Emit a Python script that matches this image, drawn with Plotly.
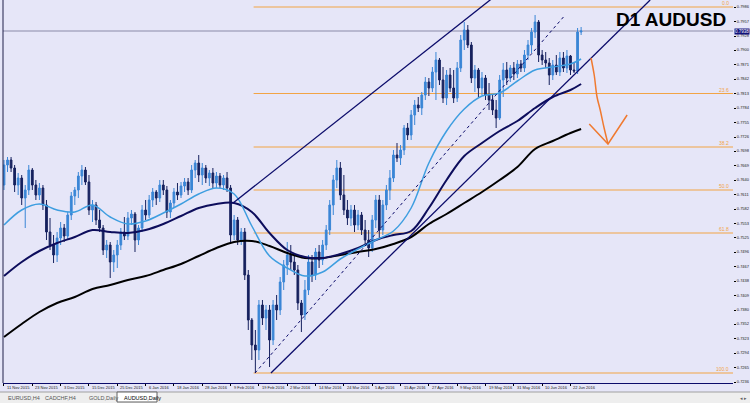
import plotly.graph_objects as go

# ---------------- data ----------------
bar_index = list(range(164))
opens = [0.7630,0.7670,0.7680,0.7664,0.7630,0.7644,0.7604,0.7620,0.7660,0.7630,0.7610,0.7624,0.7590,0.7536,0.7510,0.7490,0.7524,0.7544,0.7528,0.7570,
0.7608,0.7620,0.7648,0.7660,0.7636,0.7580,0.7590,0.7560,0.7544,0.7500,0.7510,0.7476,0.7490,0.7510,0.7536,0.7528,0.7564,0.7572,0.7520,0.7544,
0.7580,0.7570,0.7600,0.7616,0.7604,0.7630,0.7620,0.7576,0.7594,0.7616,0.7610,0.7628,0.7636,0.7620,0.7660,0.7674,0.7650,0.7664,0.7644,0.7654,
0.7634,0.7648,0.7630,0.7644,0.7624,0.7530,0.7560,0.7520,0.7536,0.7450,0.7360,0.7310,0.7300,0.7390,0.7364,0.7380,0.7320,0.7390,0.7380,0.7436,
0.7470,0.7490,0.7476,0.7460,0.7394,0.7370,0.7420,0.7476,0.7450,0.7496,0.7480,0.7510,0.7540,0.7590,0.7640,0.7664,0.7610,0.7580,0.7564,0.7580,
0.7550,0.7570,0.7540,0.7520,0.7504,0.7560,0.7600,0.7540,0.7590,0.7620,0.7644,0.7690,0.7684,0.7700,0.7744,0.7730,0.7770,0.7790,0.7784,0.7810,
0.7836,0.7824,0.7856,0.7880,0.7840,0.7804,0.7850,0.7824,0.7804,0.7864,0.7920,0.7940,0.7910,0.7844,0.7860,0.7824,0.7844,0.7810,0.7800,0.7780,
0.7764,0.7840,0.7860,0.7844,0.7864,0.7852,0.7872,0.7864,0.7890,0.7910,0.7936,0.7956,0.7890,0.7880,0.7874,0.7850,0.7870,0.7856,0.7884,0.7864,
0.7888,0.7860,0.7858,0.7936]
highs = [0.7680,0.7686,0.7686,0.7670,0.7654,0.7650,0.7630,0.7670,0.7664,0.7640,0.7634,0.7630,0.7600,0.7564,0.7530,0.7536,0.7556,0.7552,0.7576,0.7616,
0.7626,0.7656,0.7670,0.7666,0.7650,0.7600,0.7596,0.7580,0.7550,0.7520,0.7516,0.7500,0.7520,0.7544,0.7566,0.7576,0.7580,0.7576,0.7550,0.7590,
0.7600,0.7610,0.7624,0.7620,0.7640,0.7640,0.7628,0.7600,0.7624,0.7634,0.7636,0.7644,0.7644,0.7670,0.7680,0.7690,0.7674,0.7670,0.7660,0.7664,
0.7656,0.7654,0.7650,0.7656,0.7630,0.7570,0.7566,0.7544,0.7544,0.7460,0.7364,0.7340,0.7400,0.7400,0.7390,0.7390,0.7400,0.7410,0.7446,0.7480,
0.7516,0.7510,0.7490,0.7470,0.7400,0.7440,0.7490,0.7490,0.7504,0.7510,0.7520,0.7550,0.7600,0.7650,0.7680,0.7676,0.7650,0.7600,0.7590,0.7590,
0.7580,0.7576,0.7560,0.7540,0.7570,0.7610,0.7610,0.7600,0.7630,0.7660,0.7700,0.7714,0.7710,0.7750,0.7754,0.7780,0.7800,0.7806,0.7816,0.7846,
0.7844,0.7866,0.7896,0.7884,0.7866,0.7860,0.7864,0.7860,0.7876,0.7930,0.7956,0.7950,0.7916,0.7870,0.7864,0.7856,0.7850,0.7834,0.7810,0.7800,
0.7850,0.7874,0.7876,0.7870,0.7876,0.7880,0.7880,0.7900,0.7920,0.7944,0.7970,0.7960,0.7900,0.7896,0.7884,0.7880,0.7890,0.7896,0.7896,0.7900,
0.7890,0.7876,0.7944,0.7946]
lows = [0.7620,0.7656,0.7656,0.7616,0.7610,0.7590,0.7544,0.7610,0.7620,0.7600,0.7600,0.7580,0.7520,0.7500,0.7474,0.7476,0.7510,0.7516,0.7520,0.7560,
0.7590,0.7604,0.7630,0.7630,0.7570,0.7556,0.7550,0.7536,0.7490,0.7484,0.7444,0.7456,0.7464,0.7500,0.7520,0.7520,0.7550,0.7496,0.7510,0.7536,
0.7560,0.7564,0.7586,0.7590,0.7596,0.7610,0.7564,0.7564,0.7584,0.7600,0.7604,0.7616,0.7610,0.7614,0.7644,0.7636,0.7630,0.7634,0.7628,0.7624,
0.7624,0.7624,0.7620,0.7616,0.7514,0.7520,0.7510,0.7510,0.7440,0.7340,0.7280,0.7254,0.7280,0.7350,0.7340,0.7266,0.7310,0.7360,0.7370,0.7420,
0.7450,0.7460,0.7450,0.7380,0.7336,0.7360,0.7410,0.7436,0.7440,0.7464,0.7470,0.7500,0.7530,0.7570,0.7624,0.7600,0.7570,0.7550,0.7548,0.7536,
0.7540,0.7530,0.7510,0.7486,0.7496,0.7544,0.7524,0.7530,0.7580,0.7600,0.7636,0.7676,0.7670,0.7690,0.7720,0.7720,0.7750,0.7776,0.7770,0.7800,
0.7808,0.7816,0.7800,0.7830,0.7794,0.7790,0.7816,0.7794,0.7796,0.7856,0.7900,0.7904,0.7834,0.7816,0.7806,0.7810,0.7800,0.7780,0.7770,0.7744,
0.7760,0.7806,0.7830,0.7836,0.7840,0.7844,0.7856,0.7856,0.7880,0.7894,0.7924,0.7876,0.7870,0.7864,0.7830,0.7840,0.7850,0.7848,0.7856,0.7854,
0.7850,0.7854,0.7852,0.7930]
closes = [0.7670,0.7680,0.7664,0.7630,0.7644,0.7604,0.7620,0.7660,0.7630,0.7610,0.7624,0.7590,0.7536,0.7510,0.7490,0.7524,0.7544,0.7528,0.7570,0.7608,
0.7620,0.7648,0.7660,0.7636,0.7580,0.7590,0.7560,0.7544,0.7500,0.7510,0.7476,0.7490,0.7510,0.7536,0.7528,0.7564,0.7572,0.7520,0.7544,0.7580,
0.7570,0.7600,0.7616,0.7604,0.7630,0.7620,0.7576,0.7594,0.7616,0.7610,0.7628,0.7636,0.7620,0.7660,0.7674,0.7650,0.7664,0.7644,0.7654,0.7634,
0.7648,0.7630,0.7644,0.7624,0.7530,0.7560,0.7520,0.7536,0.7450,0.7360,0.7310,0.7300,0.7390,0.7364,0.7380,0.7320,0.7390,0.7380,0.7436,0.7470,
0.7490,0.7476,0.7460,0.7394,0.7370,0.7420,0.7476,0.7450,0.7496,0.7480,0.7510,0.7540,0.7590,0.7640,0.7664,0.7610,0.7580,0.7564,0.7580,0.7550,
0.7570,0.7540,0.7520,0.7504,0.7560,0.7600,0.7540,0.7590,0.7620,0.7644,0.7690,0.7684,0.7700,0.7744,0.7730,0.7770,0.7790,0.7784,0.7810,0.7836,
0.7824,0.7856,0.7880,0.7840,0.7804,0.7850,0.7824,0.7804,0.7864,0.7920,0.7940,0.7910,0.7844,0.7860,0.7824,0.7844,0.7810,0.7800,0.7780,0.7764,
0.7840,0.7860,0.7844,0.7864,0.7852,0.7872,0.7864,0.7890,0.7910,0.7936,0.7956,0.7890,0.7880,0.7874,0.7850,0.7870,0.7856,0.7884,0.7864,0.7888,
0.7860,0.7858,0.7936,0.7938]

ma_bars = [0,5,10,15,20,25,30,35,40,45,50,55,60,65,70,75,80,85,90,95,100,105,110,115,120,125,130,135,140,145,150,155,160,163]
ma_fast = [0.7550,0.7580,0.7592,0.7580,0.7576,0.7590,0.7566,0.7552,0.7558,0.7574,0.7592,0.7612,0.7624,0.7612,0.7548,0.7488,0.7464,0.7448,0.7456,0.7482,
           0.7502,0.7520,0.7538,0.7584,0.7674,0.7738,0.7782,0.7808,0.7814,0.7838,0.7860,0.7866,0.7872,0.7882]
ma_mid = [0.7448,0.7476,0.7498,0.7514,0.7526,0.7540,0.7536,0.7534,0.7540,0.7552,0.7568,0.7584,0.7592,0.7594,0.7576,0.7534,0.7500,0.7486,0.7484,0.7492,
          0.7504,0.7520,0.7530,0.7538,0.7584,0.7640,0.7688,0.7714,0.7738,0.7758,0.7784,0.7806,0.7820,0.7832]
ma_slow = [0.7326,0.7352,0.7376,0.7394,0.7406,0.7422,0.7430,0.7440,0.7448,0.7460,0.7472,0.7488,0.7504,0.7516,0.7518,0.7508,0.7494,0.7484,0.7484,0.7490,
           0.7496,0.7502,0.7512,0.7526,0.7552,0.7572,0.7594,0.7616,0.7640,0.7666,0.7702,0.7718,0.7734,0.7742]

channel_upper = {"bar": [64.7, 150.0], "price": [0.7594, 0.8071]}
channel_lower = {"bar": [75.4, 182.5], "price": [0.7254, 0.8000]}
dotted_line = {"bar": [70.9, 158.5], "price": [0.7254, 0.7970]}

fib_levels = ["0.0", "23.6", "38.2", "50.0", "61.8", "100.0"]
fib_prices = [0.7986, 0.7813, 0.7706, 0.7620, 0.7534, 0.7254]
fib_start_bar = 70.5

arrow_bar = [165.8, 166.7, 167.5, 168.4, 169.5, 170.6]
arrow_price = [0.7884, 0.7850, 0.7806, 0.7780, 0.7744, 0.7712]
arrowhead_bar = [165.3, 170.6, 176.0]
arrowhead_price = [0.7752, 0.7712, 0.7770]

bid_price = 0.7938

date_tick_bars = [0,8,16,24,32,40,48,56,64,72,80,88,96,104,112,120,128,136,144,152,160]
date_tick_text = ["11 Nov 2015","23 Nov 2015","3 Dec 2015","15 Dec 2015","25 Dec 2015","6 Jan 2016","18 Jan 2016",
                  "28 Jan 2016","9 Feb 2016","19 Feb 2016","2 Mar 2016","14 Mar 2016","24 Mar 2016","5 Apr 2016",
                  "15 Apr 2016","27 Apr 2016","9 May 2016","19 May 2016","31 May 2016","10 Jun 2016","22 Jun 2016"]
price_ticks = [0.7986,0.7957,0.7928,0.7900,0.7871,0.7842,0.7813,0.7784,0.7755,0.7726,0.7698,0.7669,0.7640,
               0.7611,0.7582,0.7553,0.7525,0.7496,0.7467,0.7438,0.7409,0.7380,0.7352,0.7323,0.7294,0.7265,0.7236]

tabs = ["EURUSD,H4", "CADCHF,H4", "GOLD,Daily", "AUDUSD,Daily"]

# ---------------- styling ----------------
BG = "#E6E6F8"
UP = "#3A86D6"
DOWN = "#16215E"
NAVY = "#0B0B6A"
ORANGE = "#F2A445"
FONT = "Liberation Sans"
PLOT_H = 383.0
PLOT_W = 730.0

fig = go.Figure()

fig.add_trace(go.Scatter(x=ma_bars, y=ma_slow, mode="lines", line=dict(color="#000000", width=2, shape="spline"), hoverinfo="skip"))
fig.add_trace(go.Scatter(x=ma_bars, y=ma_mid, mode="lines", line=dict(color="#0D0D5C", width=2, shape="spline"), hoverinfo="skip"))
fig.add_trace(go.Scatter(x=ma_bars, y=ma_fast, mode="lines", line=dict(color="#3E9EE0", width=1.5, shape="spline"), hoverinfo="skip"))

fig.add_trace(go.Candlestick(
    x=bar_index, open=opens, high=highs, low=lows, close=closes,
    increasing=dict(line=dict(color=UP, width=1), fillcolor=UP),
    decreasing=dict(line=dict(color=DOWN, width=1), fillcolor=DOWN),
    whiskerwidth=0, hoverinfo="skip"))

for ln in (channel_upper, channel_lower):
    fig.add_trace(go.Scatter(x=ln["bar"], y=ln["price"], mode="lines", line=dict(color=NAVY, width=1.3), hoverinfo="skip"))
fig.add_trace(go.Scatter(x=dotted_line["bar"], y=dotted_line["price"], mode="lines",
                         line=dict(color=NAVY, width=1, dash="dot"), hoverinfo="skip"))

fig.add_trace(go.Scatter(x=arrow_bar, y=arrow_price, mode="lines", line=dict(color="#F07A30", width=1.5, shape="spline"), hoverinfo="skip"))
fig.add_trace(go.Scatter(x=arrowhead_bar, y=arrowhead_price, mode="lines", line=dict(color="#F07A30", width=1.5), hoverinfo="skip"))

shapes = []
for lvl, p in zip(fib_levels, fib_prices):
    shapes.append(dict(type="line", xref="x", yref="y", x0=fib_start_bar, x1=206, y0=p, y1=p,
                       line=dict(color=ORANGE, width=1), layer="below"))
shapes.append(dict(type="line", xref="paper", yref="y", x0=0, x1=1, y0=bid_price, y1=bid_price,
                   line=dict(color="#8A8AA8", width=1), layer="below"))
shapes.append(dict(type="line", xref="paper", yref="paper", x0=0, x1=0, y0=0, y1=1,
                   line=dict(color="#20204A", width=1)))
# tab strip (below the time scale)
shapes.append(dict(type="rect", xref="paper", yref="paper", x0=-0.01, x1=1.03, y0=-9/PLOT_H, y1=-21/PLOT_H,
                   line=dict(width=0), fillcolor="#EEEEEE", layer="below"))
shapes.append(dict(type="line", xref="paper", yref="paper", x0=-0.01, x1=1.03, y0=-9/PLOT_H, y1=-9/PLOT_H,
                   line=dict(color="#A0A0A0", width=1), layer="below"))
shapes.append(dict(type="rect", xref="paper", yref="paper", x0=(117-3)/PLOT_W, x1=(157-3)/PLOT_W, y0=-9/PLOT_H, y1=-19/PLOT_H,
                   line=dict(color="#606060", width=1), fillcolor="#FFFFFF", layer="below"))

annotations = []
for lvl, p in zip(fib_levels, fib_prices):
    annotations.append(dict(xref="paper", yref="y", x=0.997, y=p, text=lvl, showarrow=False,
                            xanchor="right", yanchor="bottom", yshift=-1,
                            font=dict(family=FONT, size=5, color=ORANGE)))
annotations.append(dict(xref="x", yref="y", x=172.4, y=0.7962, text="<b>D1 AUDUSD</b>", showarrow=False,
                        xanchor="left", yanchor="middle", font=dict(family=FONT, size=19, color="#000000")))
annotations.append(dict(xref="paper", yref="y", x=1.0, y=bid_price, text="0.7938", showarrow=False,
                        xanchor="left", yanchor="middle", bgcolor="#10107A", borderpad=0, xshift=1,
                        font=dict(family=FONT, size=4.5, color="#FFFFFF")))
# time scale labels (left-aligned at each tick, MT4 style)
for b, t in zip(date_tick_bars, date_tick_text):
    annotations.append(dict(xref="x", yref="paper", x=b, y=-4.5/PLOT_H, text=t, showarrow=False,
                            xanchor="left", yanchor="middle", xshift=1,
                            font=dict(family=FONT, size=4, color="#202020")))
tab_x = [6, 43, 87, 122]
for t, xp in zip(tabs, tab_x):
    annotations.append(dict(xref="paper", yref="paper", x=(xp-3)/PLOT_W, y=-14.5/PLOT_H, text=t, showarrow=False,
                            xanchor="left", yanchor="middle",
                            font=dict(family=FONT, size=5.5, color="#000000" if t == "AUDUSD,Daily" else "#555555")))
annotations.append(dict(xref="paper", yref="paper", x=(743-3)/PLOT_W, y=-14.5/PLOT_H, text="◂ ▸", showarrow=False,
                        xanchor="center", yanchor="middle", font=dict(family=FONT, size=5, color="#606060")))

fig.update_layout(
    width=750, height=403,
    margin=dict(l=3, r=17, t=0, b=20, autoexpand=False),
    paper_bgcolor=BG, plot_bgcolor=BG,
    showlegend=False,
    shapes=shapes, annotations=annotations,
    xaxis=dict(range=[-0.28, 205.9], showgrid=False, zeroline=False, rangeslider=dict(visible=False),
               tickmode="array", tickvals=date_tick_bars, showticklabels=False,
               ticks="outside", ticklen=2, tickcolor="#000000", automargin=False,
               showline=True, linecolor=NAVY, linewidth=1),
    yaxis=dict(range=[0.7234, 0.8000], side="right", showgrid=False, zeroline=False,
               tickmode="array", tickvals=price_ticks, ticktext=[f"{v:.4f}" for v in price_ticks],
               tickfont=dict(family=FONT, size=4, color="#202020"), ticks="outside", ticklen=2,
               tickcolor="#000000", showline=False, automargin=False),
)

fig.write_html("out.html", config={"displayModeBar": False},
               post_script="document.body.style.margin='0';document.body.style.background='" + BG + "';")
